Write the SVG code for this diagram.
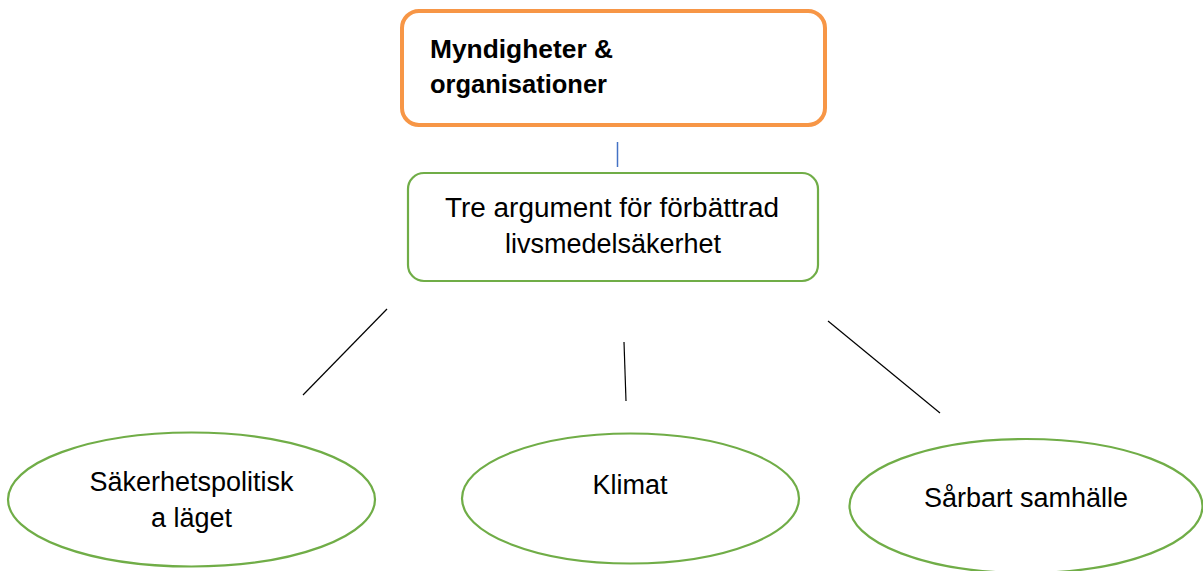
<svg xmlns="http://www.w3.org/2000/svg" width="1203" height="571" viewBox="0 0 1203 571">
<style>
.txt{font-family:"Liberation Sans",Arial,sans-serif;font-size:27px;fill:#000}
.bold{font-weight:bold;font-size:25px}
.green{fill:#fff;stroke:#70AD47;stroke-width:2.2}
.conn{stroke:#000;stroke-width:1.2;fill:none}
</style>
<rect width="1203" height="571" fill="#fff"/>
<g id="connectors">
<line class="conn" x1="617.5" y1="142" x2="617.5" y2="167" style="stroke:#4472C4;stroke-width:1.5"/>
<line class="conn" x1="387" y1="309" x2="303" y2="395"/>
<line class="conn" x1="624" y1="342" x2="626" y2="401"/>
<line class="conn" x1="828" y1="321" x2="940" y2="413"/>
</g>
<g id="node-myndigheter">
<rect x="402" y="11" width="423" height="114" rx="17" fill="#fff" stroke="#F79646" stroke-width="4"/>
<text class="txt bold" x="430" y="58" textLength="183" lengthAdjust="spacingAndGlyphs">Myndigheter &amp;</text>
<text class="txt bold" x="430" y="93" textLength="177" lengthAdjust="spacingAndGlyphs">organisationer</text>
</g>
<g id="node-tre-argument">
<rect class="green" x="408" y="173" width="410" height="108" rx="16"/>
<text class="txt" x="612" y="217" text-anchor="middle" textLength="334" lengthAdjust="spacingAndGlyphs">Tre argument för förbättrad</text>
<text class="txt" x="613" y="253" text-anchor="middle">livsmedelsäkerhet</text>
</g>
<g id="node-sakerhetspolitiska">
<ellipse class="green" cx="191.5" cy="499.5" rx="183.5" ry="67"/>
<text class="txt" x="191.5" y="491" text-anchor="middle">Säkerhetspolitisk</text>
<text class="txt" x="191.5" y="527" text-anchor="middle">a läget</text>
</g>
<g id="node-klimat">
<ellipse class="green" cx="630.5" cy="498.5" rx="168.5" ry="65"/>
<text class="txt" x="630" y="494" text-anchor="middle">Klimat</text>
</g>
<g id="node-sarbart">
<ellipse class="green" cx="1026" cy="506" rx="176.5" ry="67"/>
<text class="txt" x="1026" y="507" text-anchor="middle">Sårbart samhälle</text>
</g>
</svg>
